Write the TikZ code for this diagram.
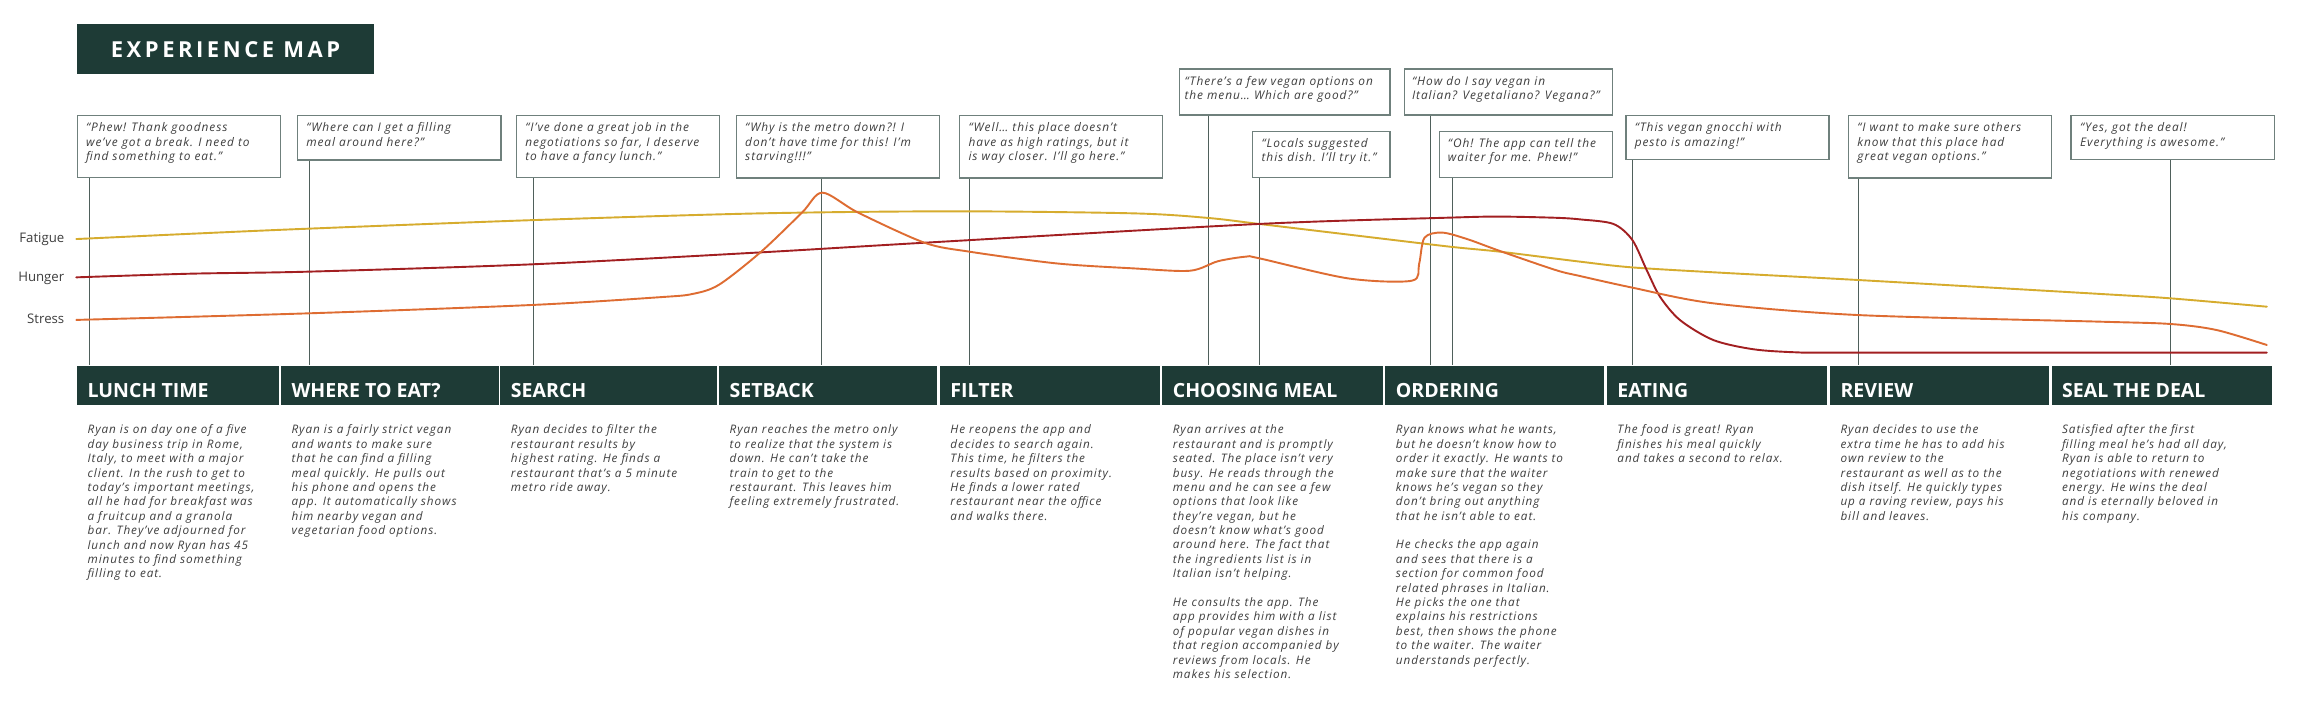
\documentclass[tikz,border=0pt]{standalone}
\usepackage{fontspec}
\setmainfont{Open Sans}
\newfontfamily\spacedfont[LetterSpace=8]{Open Sans}
\newfontfamily\titlefont[LetterSpace=16]{Open Sans}
\definecolor{dg}{HTML}{1E3B36}
\definecolor{boxc}{HTML}{6F807C}
\definecolor{vlinec}{HTML}{4F605B}
\definecolor{txt}{HTML}{3E3E3E}
\definecolor{fatc}{HTML}{D6AC2E}
\definecolor{hunc}{HTML}{A21F21}
\definecolor{strc}{HTML}{DE6C32}
\tikzset{
  qbox/.style={draw=boxc, line width=0.9pt, fill=white, anchor=north west, inner sep=0pt},
  qtext/.style={anchor=north west, inner sep=0pt, align=left, text=txt, font=\spacedfont\itshape\fontsize{8.1}{9.9}\selectfont, execute at begin node={\rule{0pt}{7pt}}},
  vline/.style={draw=vlinec, line width=0.7pt},
  stage/.style={fill=dg, anchor=north west, inner sep=0pt, minimum height=27pt},
  stagetext/.style={anchor=base west, inner sep=0pt, text=white, font=\bfseries\fontsize{13.3}{16}\selectfont},
  desc/.style={anchor=north west, inner sep=0pt, align=left, text=txt, font=\spacedfont\itshape\fontsize{8}{9.8}\selectfont, execute at begin node={\rule{0pt}{7pt}}},
  curve/.style={line width=1.3pt, line cap=round, line join=round},
  axislabel/.style={anchor=mid east, inner sep=0pt, text=txt, font=\fontsize{9}{11}\selectfont},
}
\begin{document}
\begin{tikzpicture}[x=1pt,y=-1pt]
\useasboundingbox (0,0) rectangle (1568,489);
\fill[white] (0,0) rectangle (1568,489);

% title
\node[fill=dg, anchor=north west, minimum width=201.8pt, minimum height=33.8pt, inner sep=0pt,
      text=white, font=\titlefont\bfseries\fontsize{15}{18}\selectfont] (title) at (52.6,16.4) {EXPERIENCE MAP};

% stage bars
\node[stage, minimum width=137.7pt] (s1) at (52,249) {};
\node[stage, minimum width=148.3pt] (s2) at (191.3,249) {};
\node[stage, minimum width=147.8pt] (s3) at (340.8,249) {};
\node[stage, minimum width=148.8pt] (s4) at (489.8,249) {};
\node[stage, minimum width=149.8pt] (s5) at (640.3,249) {};
\node[stage, minimum width=150.3pt] (s6) at (791.8,249) {};
\node[stage, minimum width=149.3pt] (s7) at (943.8,249) {};
\node[stage, minimum width=150.3pt] (s8) at (1094.8,249) {};
\node[stage, minimum width=149.3pt] (s9) at (1246.8,249) {};
\node[stage, minimum width=150.2pt] (s10) at (1397.8,249) {};

\node[stagetext] (h1) at (59.5,270.7) {LUNCH TIME};
\node[stagetext] (h2) at (198.5,270.7) {WHERE TO EAT?};
\node[stagetext] (h3) at (348,270.7) {SEARCH};
\node[stagetext] (h4) at (497,270.7) {SETBACK};
\node[stagetext] (h5) at (647.5,270.7) {FILTER};
\node[stagetext] (h6) at (799,270.7) {CHOOSING MEAL};
\node[stagetext] (h7) at (951,270.7) {ORDERING};
\node[stagetext] (h8) at (1102,270.7) {EATING};
\node[stagetext] (h9) at (1254,270.7) {REVIEW};
\node[stagetext] (h10) at (1405,270.7) {SEAL THE DEAL};

% descriptions (first baseline at 296.4)
\node[desc] (d1) at (59.5,289.4) {Ryan is on day one of a five\\day business trip in Rome,\\Italy, to meet with a major\\client. In the rush to get to\\today’s important meetings,\\all he had for breakfast was\\a fruitcup and a granola\\bar. They’ve adjourned for\\lunch and now Ryan has 45\\minutes to find something\\filling to eat.};
\node[desc] (d2) at (198.5,289.4) {Ryan is a fairly strict vegan\\and wants to make sure\\that he can find a filling\\meal quickly. He pulls out\\his phone and opens the\\app. It automatically shows\\him nearby vegan and\\vegetarian food options.};
\node[desc] (d3) at (348,289.4) {Ryan decides to filter the\\restaurant results by\\highest rating. He finds a\\restaurant that’s a 5 minute\\metro ride away.};
\node[desc] (d4) at (497,289.4) {Ryan reaches the metro only\\to realize that the system is\\down. He can’t take the\\train to get to the\\restaurant. This leaves him\\feeling extremely frustrated.};
\node[desc] (d5) at (647.5,289.4) {He reopens the app and\\decides to search again.\\This time, he filters the\\results based on proximity.\\He finds a lower rated\\restaurant near the office\\and walks there.};
\node[desc] (d6) at (799,289.4) {Ryan arrives at the\\restaurant and is promptly\\seated. The place isn’t very\\busy. He reads through the\\menu and he can see a few\\options that look like\\they’re vegan, but he\\doesn’t know what’s good\\around here. The fact that\\the ingredients list is in\\Italian isn’t helping.\\[9.8pt]He consults the app. The\\app provides him with a list\\of popular vegan dishes in\\that region accompanied by\\reviews from locals. He\\makes his selection.};
\node[desc] (d7) at (951,289.4) {Ryan knows what he wants,\\but he doesn’t know how to\\order it exactly. He wants to\\make sure that the waiter\\knows he’s vegan so they\\don’t bring out anything\\that he isn’t able to eat.\\[9.8pt]He checks the app again\\and sees that there is a\\section for common food\\related phrases in Italian.\\He picks the one that\\explains his restrictions\\best, then shows the phone\\to the waiter. The waiter\\understands perfectly.};
\node[desc] (d8) at (1102,289.4) {The food is great! Ryan\\finishes his meal quickly\\and takes a second to relax.};
\node[desc] (d9) at (1254,289.4) {Ryan decides to use the\\extra time he has to add his\\own review to the\\restaurant as well as to the\\dish itself. He quickly types\\up a raving review, pays his\\bill and leaves.};
\node[desc] (d10) at (1405,289.4) {Satisfied after the first\\filling meal he’s had all day,\\Ryan is able to return to\\negotiations with renewed\\energy. He wins the deal\\and is eternally beloved in\\his company.};

% quote boxes
\node[qbox, minimum width=138.7pt, minimum height=42.2pt] (q1) at (52.2,78.4) {};
\node[qbox, minimum width=138.7pt, minimum height=30.2pt] (q2) at (202.2,78.4) {};
\node[qbox, minimum width=138.4pt, minimum height=42.2pt] (q3) at (351.5,78.4) {};
\node[qbox, minimum width=138.4pt, minimum height=42.4pt] (q4) at (501.3,78.4) {};
\node[qbox, minimum width=138.4pt, minimum height=42.4pt] (q5) at (653.5,78.4) {};
\node[qbox, minimum width=143.5pt, minimum height=31.3pt] (q6) at (803.2,46.6) {};
\node[qbox, minimum width=93.5pt, minimum height=31.4pt] (q7) at (853.2,89) {};
\node[qbox, minimum width=141.6pt, minimum height=31.3pt] (q8) at (956.7,46.6) {};
\node[qbox, minimum width=117.9pt, minimum height=31.4pt] (q9) at (980.4,89) {};
\node[qbox, minimum width=138.4pt, minimum height=30pt] (q10) at (1107.5,78.4) {};
\node[qbox, minimum width=138.3pt, minimum height=42.4pt] (q11) at (1259.2,78.4) {};
\node[qbox, minimum width=138.6pt, minimum height=29.8pt] (q12) at (1410.9,78.4) {};

% quote texts (first baseline 12 below box top)
\node[qtext] (t1) at (58.5,83.4) {“Phew! Thank goodness\\we’ve got a break. I need to\\find something to eat.”};
\node[qtext] (t2) at (208.5,83.4) {“Where can I get a filling\\meal around here?”};
\node[qtext] (t3) at (357.8,83.4) {“I’ve done a great job in the\\negotiations so far, I deserve\\to have a fancy lunch.”};
\node[qtext] (t4) at (507.6,83.4) {“Why is the metro down?! I\\don’t have time for this! I’m\\starving!!!”};
\node[qtext] (t5) at (659.8,83.4) {“Well… this place doesn’t\\have as high ratings, but it\\is way closer. I’ll go here.”};
\node[qtext] (t6) at (807,51.6) {“There’s a few vegan options on\\the menu… Which are good?”};
\node[qtext] (t7) at (859.5,94) {“Locals suggested\\this dish. I’ll try it.”};
\node[qtext] (t8) at (962,51.6) {“How do I say vegan in\\Italian? Vegetaliano? Vegana?”};
\node[qtext] (t9) at (986.5,94) {“Oh! The app can tell the\\waiter for me. Phew!”};
\node[qtext] (t10) at (1113.8,83.4) {“This vegan gnocchi with\\pesto is amazing!”};
\node[qtext] (t11) at (1265.5,83.4) {“I want to make sure others\\know that this place had\\great vegan options.”};
\node[qtext] (t12) at (1417.2,83.4) {“Yes, got the deal!\\Everything is awesome.”};

% connector ends on the stage bar
\coordinate (c1) at (61.1,249);
\coordinate (c2) at (210.8,249);
\coordinate (c3) at (363.3,249);
\coordinate (c4) at (559.5,249);
\coordinate (c5) at (660.6,249);
\coordinate (c6) at (823.6,249);
\coordinate (c7) at (858,249);
\coordinate (c8) at (975,249);
\coordinate (c9) at (989.5,249);
\coordinate (c10) at (1112.4,249);
\coordinate (c11) at (1266.2,249);
\coordinate (c12) at (1479.3,249);
\foreach \i in {1,...,12} {
  \draw[vline] (q\i.south -| c\i) -- (c\i);
}

% axis labels
\node[axislabel] (lf) at (44,162.9) {Fatigue};
\node[axislabel] (lh) at (44,189) {Hunger};
\node[axislabel] (ls) at (44,218) {Stress};

% curves
\draw[curve, fatc] plot[smooth, tension=0.5] coordinates {
 (52,162.9) (130,159.3) (210.8,155.8) (363,150) (518,145.4) (650.8,144) (772.6,145.4)
 (823,148.5) (858,152.6) (920,160) (988,168.1) (1022,171.5) (1076.7,178.3) (1112,182.2)
 (1172,185.8) (1266,190.8) (1431,200.3) (1479,203.3) (1544.7,209)};
\draw[curve, hunc] plot[smooth, tension=0.5] coordinates {
 (52,189) (130,186.5) (210.8,185.1) (363,180.1) (518,172) (630,165.4) (858,152.6)
 (988,148.3) (1022,147.6) (1060,148.4) (1076.7,149.5) (1099.4,152.6) (1112.3,163.5)
 (1122.1,184) (1131.2,202.2) (1144.8,218.1) (1167.5,231.7) (1194.8,238) (1224.3,240.1)
 (1260,240.3) (1544.7,240.3)};
\draw[curve, strc] plot[smooth, tension=0.5] coordinates {
 (52,218) (210.8,213.5) (363,207.8) (450,202.5) (472,200.3) (490,194) (518.7,171.5)
 (546.5,144.9) (560.4,131.3) (584.8,144.9) (630,165.4) (660.6,171.5) (720,179.5)
 (772.6,182.9) (810.8,184.5) (830,178) (849,174.9) (858,176) (918.6,189.7) (962,191.3)
 (967,180) (970.7,162) (982.7,158.5) (1000,163) (1022,171) (1060,184) (1076.7,188.1)
 (1112.3,196) (1167.5,206.7) (1266.3,214.7) (1431,219.2) (1479.2,220.8) (1510.5,224.9)
 (1544.7,235.1)};
\end{tikzpicture}
\end{document}
